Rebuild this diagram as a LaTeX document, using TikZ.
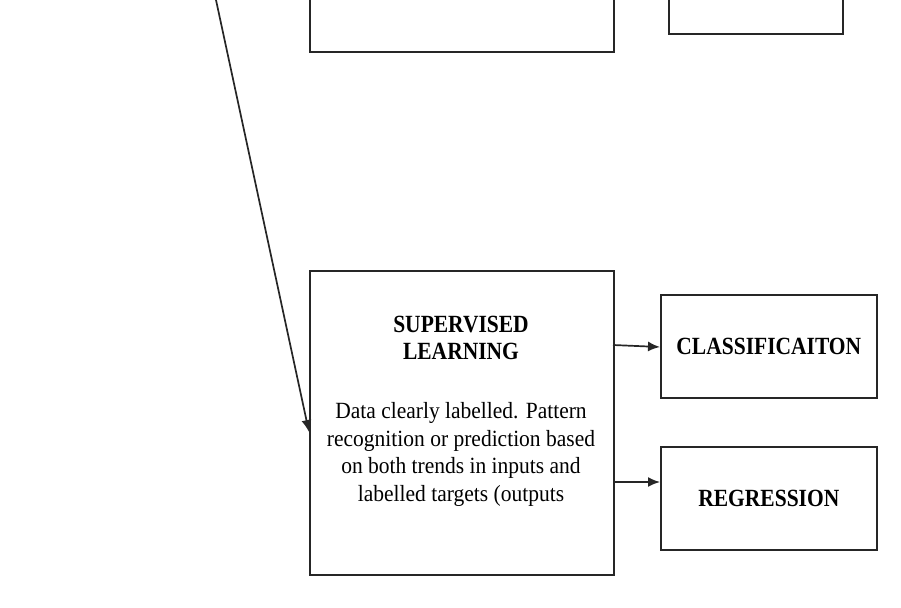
\documentclass[tikz,border=0pt]{standalone}
\usepackage{fontspec}
\setmainfont{Liberation Serif}
\usetikzlibrary{arrows.meta}
\newcommand{\vstretch}[2]{\scalebox{1}[#1]{#2}}
\begin{document}
\begin{tikzpicture}[x=1pt,y=-1pt,
  box/.style={draw=black!85,line width=1.7pt,inner sep=0pt,anchor=north west},
  conn/.style={draw=black!85,line width=1.7pt,-{Latex[length=12pt,width=10pt]}},
  txt/.style={inner sep=0pt}]
\useasboundingbox (0,0) rectangle (901,607);
\clip (0,0) rectangle (901,607);
% cut-off boxes at top
\node[box,minimum width=304pt,minimum height=91pt] (topl) at (309,-40) {};
\node[box,minimum width=174pt,minimum height=73pt] (topr) at (668,-40) {};
% main boxes
\node[box,minimum width=304pt,minimum height=304pt] (sup) at (309,270) {};
\node[box,minimum width=216pt,minimum height=103pt] (cls) at (660,294) {};
\node[box,minimum width=216pt,minimum height=103pt] (reg) at (660,446) {};
% texts
\node[txt] (suph) at (461,341) {\vstretch{1.15}{\fontsize{21.5}{23.5}\selectfont\bfseries
  \begin{tabular}{@{}c@{}}SUPERVISED\\LEARNING\end{tabular}}};
\node[txt] (supb) at (461,454.4) {\vstretch{1.08}{\fontsize{21.5}{25.9}\selectfont
  \begin{tabular}{@{}c@{}}Data clearly labelled. Pattern\\recognition or prediction based\\on both trends in inputs and\\labelled targets (outputs\end{tabular}}};
\node[txt] (clst) at (cls.center) {\vstretch{1.15}{\fontsize{21.5}{25}\selectfont\bfseries CLASSIFICAITON}};
\node[txt] (regt) at (reg.center) {\vstretch{1.15}{\fontsize{21.5}{25}\selectfont\bfseries REGRESSION}};
% connectors
\coordinate (src) at (216,0);
\coordinate (supin) at (309,432);
\draw[conn] (src) -- (supin);
\draw[conn] (613,345) -- (cls.west |- 0,347);
\draw[conn] (613,482) -- (reg.west |- 0,482);
\end{tikzpicture}
\end{document}
